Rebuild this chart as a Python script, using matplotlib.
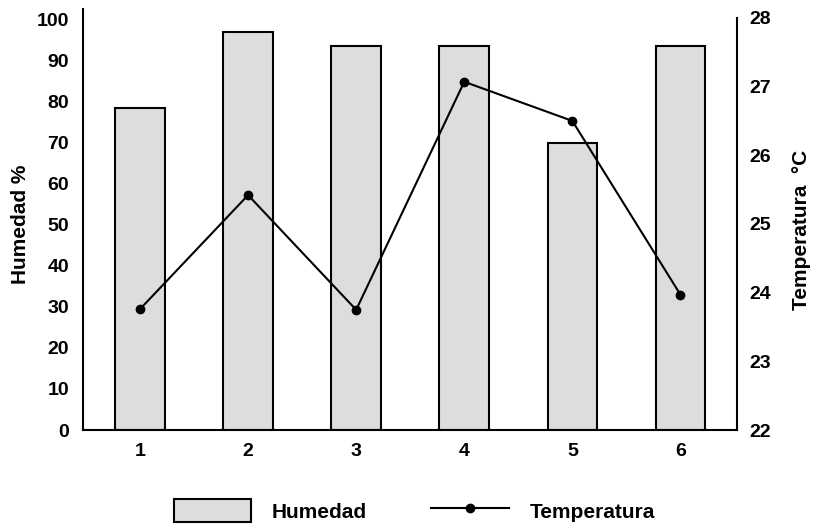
import numpy as np
import matplotlib.pyplot as plt
from matplotlib.patches import Patch
from matplotlib.lines import Line2D

plt.rcParams["font.family"] = ["Liberation Sans", "DejaVu Sans"]
plt.rcParams["font.weight"] = "bold"

# Datos
dias = [1, 2, 3, 4, 5, 6]
humedad = [78.5, 97, 93.5, 93.5, 70, 93.5]
temperatura = [23.76, 25.42, 23.75, 27.07, 26.5, 23.97]

fig = plt.figure(figsize=(8.14, 5.27), dpi=100)
ax = fig.add_axes([0.102, 0.184, 0.803, 0.799])
ax2 = ax.twinx()

# Barras de humedad
ax.bar(dias, humedad, width=0.46, color="#dddddd", edgecolor="black",
       linewidth=1.5, zorder=2)
ax.set_xlim(0.473, 6.52)
ax.set_ylim(0, 102.6)
ax.set_yticks(range(0, 101, 10))
ax.set_xticks(dias)

# Linea de temperatura
ax2.plot(dias, temperatura, color="black", linewidth=1.5, marker="o",
         markersize=6, zorder=3)
ax2.set_ylim(22, 28.13)
ax2.set_yticks(range(22, 29))

for a in (ax, ax2):
    a.spines["top"].set_visible(False)
    a.tick_params(length=0, labelsize=14)
    for s in a.spines.values():
        s.set_linewidth(1.5)
ax.spines["right"].set_visible(False)
ax2.spines["left"].set_visible(False)
ax2.spines["bottom"].set_visible(False)
ax2.spines["right"].set_bounds(22, 28)
ax.tick_params(axis="y", pad=10)
ax.tick_params(axis="x", pad=9)
ax2.tick_params(axis="y", pad=9.5)

# Titulos de ejes
fig.text(0.025, 0.575, "Humedad %", rotation=90, ha="center", va="center",
         fontsize=15, fontweight="bold")
fig.text(0.985, 0.564, "Temperatura  °C", rotation=90, ha="center",
         va="center", fontsize=15, fontweight="bold")

handles = [
    Patch(facecolor="#dddddd", edgecolor="black", linewidth=1.5),
    Line2D([], [], color="black", linewidth=1.5, marker="o", markersize=6),
]
fig.legend(handles, ["Humedad", "Temperatura"], loc="center",
           bbox_to_anchor=(0.509, 0.031), ncol=2, frameon=False, fontsize=15,
           handlelength=3.7, handleheight=1.35, handletextpad=1.0,
           columnspacing=3.1, numpoints=1)

fig.savefig("out.png", dpi=100)
